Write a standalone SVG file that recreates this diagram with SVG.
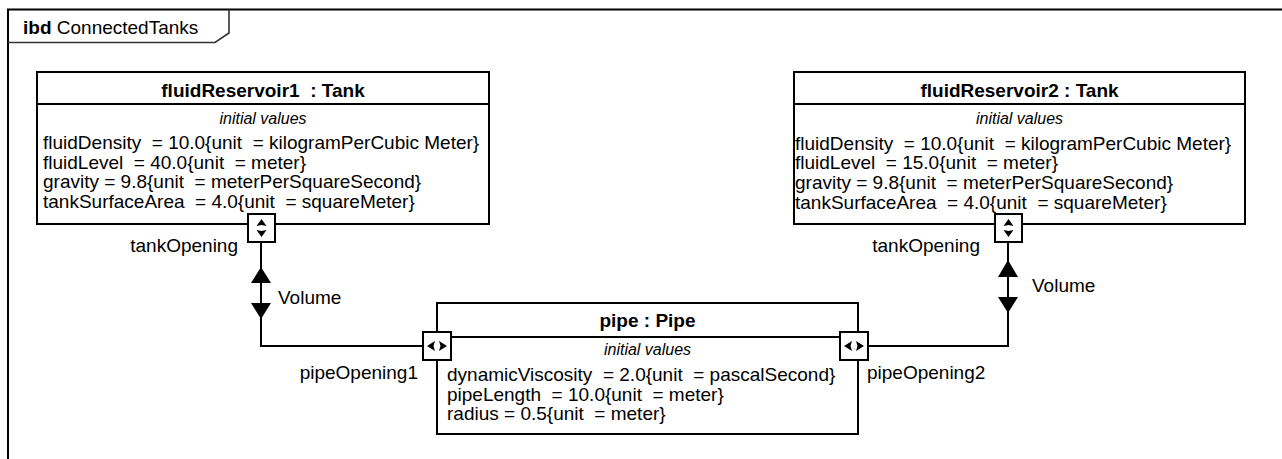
<svg xmlns="http://www.w3.org/2000/svg" width="1282" height="459" viewBox="0 0 1282 459">
<style>
text{font-family:"Liberation Sans",Arial,sans-serif;fill:#000;white-space:pre}
.t{font-size:19px}
.b{font-size:19px;font-weight:bold}
.i{font-size:16px;font-style:italic}
.box{fill:#fff;stroke:#000;stroke-width:2}
.ln{fill:none;stroke:#000;stroke-width:2}
.port{fill:#fff;stroke:#000;stroke-width:2}
.gl{fill:#000;stroke:none}
</style>
<defs>
<g id="vglyph"><polygon class="gl" points="0,-9 -5,-2 0,-3 5,-2"/><polygon class="gl" points="0,9 -5,2 0,3 5,2"/></g>
<g id="hglyph"><polygon class="gl" points="-10,0 -2,-5 -3.5,0 -2,5"/><polygon class="gl" points="10,0 2,-5 3.5,0 2,5"/></g>
</defs>
<g id="frame">
<path class="ln" d="M8,470 V9.5 H1290"/>
<path d="M8,42.5 H215 L229,33 V9.5" fill="none" stroke="#333" stroke-width="1.6"/>
<text x="23" y="34" style="font-size:19px"><tspan font-weight="bold">ibd</tspan> ConnectedTanks</text>
</g>
<g id="connectors">
<path class="ln" d="M261,242 V346 H423"/>
<path class="ln" d="M1008,242 V346 H868"/>
<polygon class="gl" points="261,267 251,283 271,283"/>
<polygon class="gl" points="261,319 251,303 271,303"/>
<polygon class="gl" points="1008,260 998,277 1018,277"/>
<polygon class="gl" points="1008,313 998,297 1018,297"/>
<text class="t" x="278" y="304">Volume</text>
<text class="t" x="1032" y="292">Volume</text>
</g>
<g id="fluidReservoir1">
<rect class="box" x="37" y="72" width="452" height="152"/>
<line class="ln" x1="37" y1="104" x2="489" y2="104"/>
<text class="b" x="263" y="97" text-anchor="middle">fluidReservoir1  : Tank</text>
<text class="i" x="263" y="124" text-anchor="middle">initial values</text>
<text class="t" x="43" y="149">fluidDensity  = 10.0{unit  = kilogramPerCubic Meter}</text>
<text class="t" x="43" y="169">fluidLevel  = 40.0{unit  = meter}</text>
<text class="t" x="43" y="188">gravity = 9.8{unit  = meterPerSquareSecond}</text>
<text class="t" x="43" y="208">tankSurfaceArea  = 4.0{unit  = squareMeter}</text>
</g>
<g id="tankOpening1">
<rect class="port" x="248" y="214" width="27" height="28"/>
<use href="#vglyph" x="261.5" y="228"/>
<text class="t" x="238" y="252" text-anchor="end">tankOpening</text>
</g>
<g id="fluidReservoir2">
<rect class="box" x="794" y="72" width="451" height="152"/>
<line class="ln" x1="794" y1="104" x2="1245" y2="104"/>
<text class="b" x="1019.5" y="97" text-anchor="middle">fluidReservoir2 : Tank</text>
<text class="i" x="1019.5" y="124" text-anchor="middle">initial values</text>
<text class="t" x="795" y="150">fluidDensity  = 10.0{unit  = kilogramPerCubic Meter}</text>
<text class="t" x="795" y="169">fluidLevel  = 15.0{unit  = meter}</text>
<text class="t" x="795" y="189">gravity = 9.8{unit  = meterPerSquareSecond}</text>
<text class="t" x="795" y="209">tankSurfaceArea  = 4.0{unit  = squareMeter}</text>
</g>
<g id="tankOpening2">
<rect class="port" x="995" y="214" width="27" height="28"/>
<use href="#vglyph" x="1008.5" y="228"/>
<text class="t" x="980" y="252" text-anchor="end">tankOpening</text>
</g>
<g id="pipe">
<rect class="box" x="437" y="303" width="421" height="131"/>
<line class="ln" x1="437" y1="337" x2="858" y2="337"/>
<text class="b" x="647.5" y="327" text-anchor="middle">pipe : Pipe</text>
<text class="i" x="647.5" y="355" text-anchor="middle">initial values</text>
<text class="t" x="447" y="381">dynamicViscosity  = 2.0{unit  = pascalSecond}</text>
<text class="t" x="447" y="401">pipeLength  = 10.0{unit  = meter}</text>
<text class="t" x="447" y="420">radius = 0.5{unit  = meter}</text>
</g>
<g id="pipeOpening1">
<rect class="port" x="423" y="332" width="28" height="28"/>
<use href="#hglyph" x="437" y="346"/>
<text class="t" x="418" y="379" text-anchor="end">pipeOpening1</text>
</g>
<g id="pipeOpening2">
<rect class="port" x="840" y="332" width="28" height="28"/>
<use href="#hglyph" x="854" y="346"/>
<text class="t" x="867" y="379">pipeOpening2</text>
</g>
</svg>
